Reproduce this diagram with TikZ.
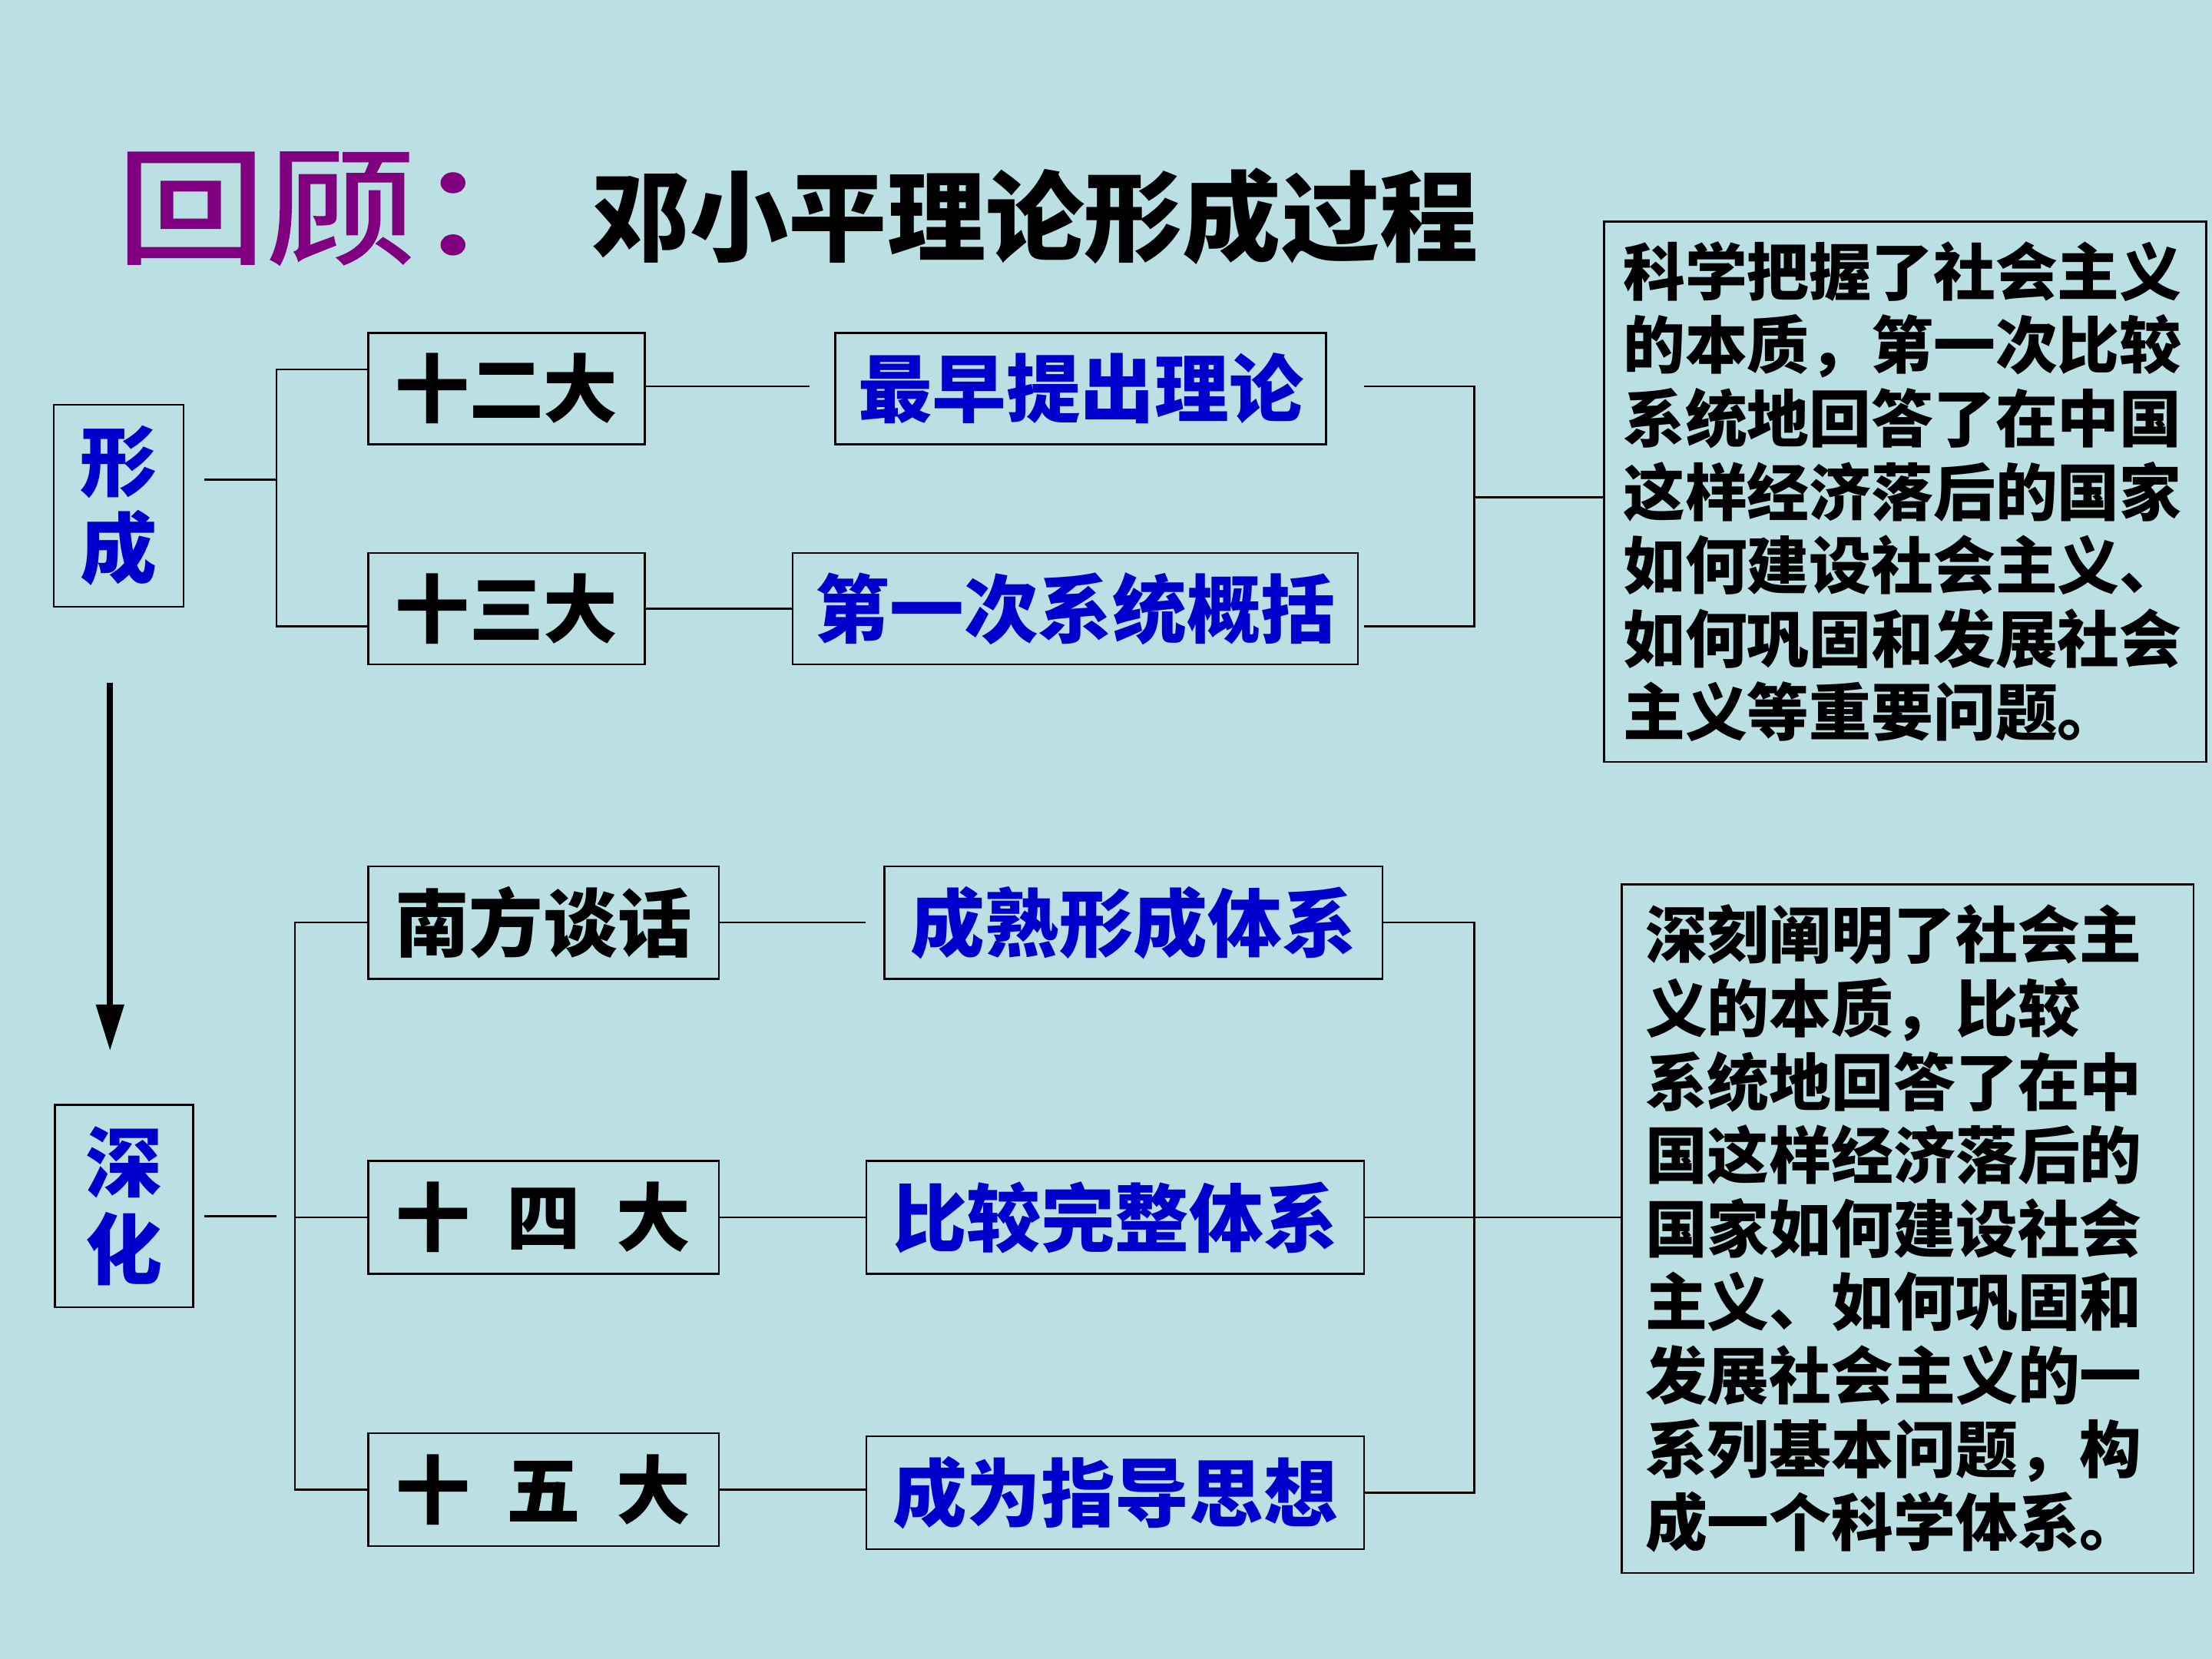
\documentclass[tikz,border=0pt]{standalone}
\usepackage{fontspec}
\newfontfamily\cjk{Noto Sans CJK SC}
\newfontfamily\cjkt[FakeStretch=1.18,FakeBold=1.6]{Noto Sans CJK SC}
\usetikzlibrary{arrows.meta}
\newdimen\ux \ux=0.018367cm
\definecolor{bg}{RGB}{187,224,227}
\definecolor{tblue}{RGB}{0,0,204}
\definecolor{tpurple}{RGB}{128,0,128}
\tikzset{
  bx/.style={draw=black, line width=0.7pt, inner sep=0pt, text=black},
  lbl/.style={font=\cjk\bfseries\fontsize{27.5pt}{33pt}\selectfont},
  bluelbl/.style={lbl, text=tblue},
  vlbl/.style={font=\cjk\bfseries\fontsize{28.5pt}{32pt}\selectfont, text=tblue, align=center},
  para/.style={font=\cjk\bfseries\fontsize{23pt}{27.2pt}\selectfont, align=left},
  conn/.style={draw=black, line width=0.7pt},
  arr/.style={draw=black, line width=2.4pt, -{Triangle[width=0.349cm,length=0.606cm]}}
}
\begin{document}
\begin{tikzpicture}[x=0.018367cm, y=-0.018367cm]
\fill[bg] (0,0) rectangle (1568,1176);
\useasboundingbox (0,0) rectangle (1568,1176);

% titles
\node[anchor=base west, inner sep=0pt, text=tpurple, font=\cjkt\fontsize{47pt}{55pt}\selectfont] (t1) at (82,180) {回顾：};
\node[anchor=base west, inner sep=0pt, font=\cjk\bfseries\fontsize{36.5pt}{42pt}\selectfont] (t2) at (419,180) {邓小平理论形成过程};

% upper part
\node[bx, vlbl, minimum width=92\ux, minimum height=143\ux] (xc) at (84,358.5) {形\\成};
\node[bx, lbl, minimum width=196\ux, minimum height=79\ux] (b12) at (359,275.5) {十二大};
\node[bx, lbl, minimum width=196\ux, minimum height=79\ux] (b13) at (359,431.5) {十三大};
\node[bx, bluelbl, minimum width=348\ux, minimum height=79\ux] (zz) at (766,275.5) {最早提出理论};
\node[bx, bluelbl, minimum width=400.6\ux, minimum height=79\ux] (dy) at (762.3,431.5) {第一次系统概括};
\node[bx, para, minimum width=427\ux, minimum height=383\ux, text width=400\ux] (r1) at (1350.5,348.5)
 {科学把握了社会主义\\的本质，第一次比较\\系统地回答了在中国\\这样经济落后的国家\\如何建设社会主义、\\如何巩固和发展社会\\主义等重要问题。};

\coordinate (s1) at (145,340);
\coordinate (j1) at (196,340);
\coordinate (k1) at (196,262);
\coordinate (k2) at (196,444);
\coordinate (g1) at (574,274);
\coordinate (k3) at (967,274);
\coordinate (k4) at (1045,274);
\coordinate (k5) at (1045,444);
\coordinate (k6) at (967,444);
\coordinate (k7) at (1045,352.5);

\draw[conn] (s1) -- (j1);
\draw[conn] (b12.west |- k1) -- (k1) -- (k2) -- (b13.west |- k2);
\draw[conn] (b12.east |- g1) -- (g1);
\draw[conn] (b13.east) -- (dy.west);
\draw[conn] (k3) -- (k4) -- (k5) -- (k6);
\draw[conn] (k7) -- (k7 -| r1.west);

% arrow
\coordinate (a1) at (78,484);
\coordinate (a2) at (78,745);
\draw[arr] (a1) -- (a2);

% lower part
\node[bx, vlbl, minimum width=98\ux, minimum height=143.5\ux] (sh) at (88,855) {深\\化};
\node[bx, lbl, minimum width=248.5\ux, minimum height=80\ux] (nf) at (385.25,654) {南方谈话};
\node[bx, lbl, minimum width=248.5\ux, minimum height=80\ux] (b14) at (385.25,863) {十\hspace{13.3pt}四\hspace{13.3pt}大};
\node[bx, lbl, minimum width=248.5\ux, minimum height=80\ux] (b15) at (385.25,1056) {十\hspace{13.3pt}五\hspace{13.3pt}大};
\node[bx, bluelbl, minimum width=353\ux, minimum height=80\ux] (cs) at (803.5,654) {成熟形成体系};
\node[bx, bluelbl, minimum width=353\ux, minimum height=80\ux] (bj) at (790.5,863) {比较完整体系};
\node[bx, bluelbl, minimum width=353\ux, minimum height=80\ux] (cw) at (790.5,1058) {成为指导思想};
\node[bx, para, minimum width=405.5\ux, minimum height=488\ux, text width=372\ux] (r2) at (1352.25,871)
 {深刻阐明了社会主\\义的本质，比较\\系统地回答了在中\\国这样经济落后的\\国家如何建设社会\\主义、如何巩固和\\发展社会主义的一\\系列基本问题，构\\成一个科学体系。};

\coordinate (s2) at (145,862);
\coordinate (j2) at (196,862);
\coordinate (m1) at (209,0);
\coordinate (g2) at (613.6,654);
\coordinate (m3) at (1045,0);

\draw[conn] (s2) -- (j2);
\draw[conn] (nf.west) -- (nf.west -| m1) -- (b15.west -| m1) -- (b15.west);
\draw[conn] (b14.west) -- (b14.west -| m1);
\draw[conn] (nf.east) -- (g2);
\draw[conn] (b14.east) -- (bj.west);
\draw[conn] (b15.east) -- (b15.east -| cw.west);
\draw[conn] (cs.east) -- (cs.east -| m3) -- (cw.east -| m3) -- (cw.east);
\draw[conn] (bj.east) -- (bj.east -| r2.west);
\end{tikzpicture}
\end{document}
